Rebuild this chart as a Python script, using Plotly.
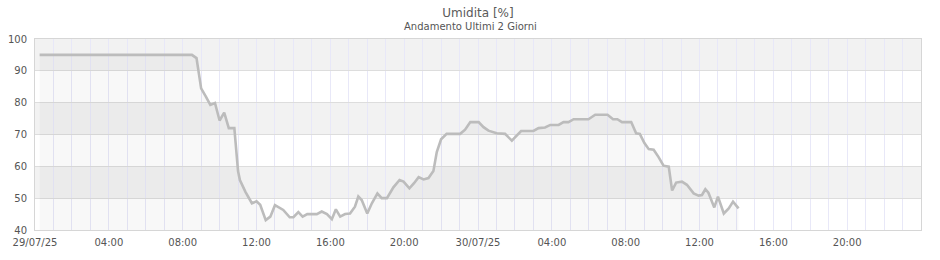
import plotly.graph_objects as go

# Data
times = [
    "2025-07-29 00:15", "2025-07-29 08:30", "2025-07-29 08:45", "2025-07-29 09:00",
    "2025-07-29 09:15", "2025-07-29 09:30", "2025-07-29 09:45", "2025-07-29 10:00",
    "2025-07-29 10:15", "2025-07-29 10:30", "2025-07-29 10:48", "2025-07-29 11:00",
    "2025-07-29 11:06", "2025-07-29 11:24", "2025-07-29 11:45", "2025-07-29 12:00",
    "2025-07-29 12:12", "2025-07-29 12:30", "2025-07-29 12:45", "2025-07-29 13:00",
    "2025-07-29 13:27", "2025-07-29 13:48", "2025-07-29 14:00", "2025-07-29 14:16",
    "2025-07-29 14:30", "2025-07-29 14:45", "2025-07-29 15:16", "2025-07-29 15:32",
    "2025-07-29 15:49", "2025-07-29 16:05", "2025-07-29 16:18", "2025-07-29 16:32",
    "2025-07-29 16:48", "2025-07-29 17:04", "2025-07-29 17:20", "2025-07-29 17:31",
    "2025-07-29 17:42", "2025-07-29 18:00", "2025-07-29 18:15", "2025-07-29 18:33",
    "2025-07-29 18:47", "2025-07-29 19:04", "2025-07-29 19:25", "2025-07-29 19:45",
    "2025-07-29 19:58", "2025-07-29 20:17", "2025-07-29 20:32", "2025-07-29 20:47",
    "2025-07-29 21:03", "2025-07-29 21:19", "2025-07-29 21:35", "2025-07-29 21:46",
    "2025-07-29 22:00", "2025-07-29 22:18", "2025-07-29 23:02", "2025-07-29 23:18",
    "2025-07-29 23:35", "2025-07-30 00:02", "2025-07-30 00:18", "2025-07-30 00:34",
    "2025-07-30 01:01", "2025-07-30 01:28", "2025-07-30 01:50", "2025-07-30 02:03",
    "2025-07-30 02:20", "2025-07-30 03:00", "2025-07-30 03:17", "2025-07-30 03:38",
    "2025-07-30 03:55", "2025-07-30 04:22", "2025-07-30 04:38", "2025-07-30 04:54",
    "2025-07-30 05:11", "2025-07-30 05:59", "2025-07-30 06:21", "2025-07-30 07:01",
    "2025-07-30 07:19", "2025-07-30 07:33", "2025-07-30 07:48", "2025-07-30 08:18",
    "2025-07-30 08:34", "2025-07-30 08:46", "2025-07-30 09:01", "2025-07-30 09:15",
    "2025-07-30 09:31", "2025-07-30 09:47", "2025-07-30 10:03", "2025-07-30 10:20",
    "2025-07-30 10:31", "2025-07-30 10:44", "2025-07-30 11:03", "2025-07-30 11:19",
    "2025-07-30 11:41", "2025-07-30 11:57", "2025-07-30 12:08", "2025-07-30 12:19",
    "2025-07-30 12:29", "2025-07-30 12:48", "2025-07-30 13:00", "2025-07-30 13:19",
    "2025-07-30 13:35", "2025-07-30 13:49", "2025-07-30 14:07",
]
humidity = [
    95, 95, 94, 84.5,
    82, 79.3, 79.9, 74.4,
    76.9, 72, 72, 58.5,
    55.7, 52, 48.4, 49,
    47.9, 43.1, 44.2, 47.8,
    46.3, 44, 44, 45.6,
    44.2, 45, 45, 45.8,
    45, 43.4, 46.5, 44.2,
    45, 45.2, 47.3, 50.5,
    49.4, 45.2, 48.4, 51.5,
    50, 50, 53.4, 55.7,
    55.2, 53.1, 54.7, 56.6,
    55.9, 56.3, 58.5, 64.5,
    68.5, 70.2, 70.2, 71.5,
    73.9, 73.9, 72.3, 71.2,
    70.4, 70.2, 68.1, 69.4,
    71.1, 71.1, 72, 72.2,
    73, 73, 73.9, 73.9,
    74.8, 74.8, 76.2, 76.2,
    74.8, 74.8, 73.9, 73.9,
    70.4, 70.2, 67.3, 65.4,
    65.2, 62.9, 60.2, 59.9,
    52.4, 54.9, 55.2, 54.2,
    51.5, 50.8, 51, 52.8,
    51.7, 47.1, 50.5, 45.2,
    46.8, 48.9, 46.8,
]

tick_vals = [
    "2025-07-29 00:00", "2025-07-29 04:00", "2025-07-29 08:00", "2025-07-29 12:00",
    "2025-07-29 16:00", "2025-07-29 20:00", "2025-07-30 00:00", "2025-07-30 04:00",
    "2025-07-30 08:00", "2025-07-30 12:00", "2025-07-30 16:00", "2025-07-30 20:00",
]
tick_text = [
    "29/07/25", "04:00", "08:00", "12:00", "16:00", "20:00",
    "30/07/25", "04:00", "08:00", "12:00", "16:00", "20:00",
]
x_range = ["2025-07-29 00:00", "2025-07-31 00:00"]
y_range = [40, 100]
band_starts = [50, 70, 90]   # grey bands (each 10 units tall)

title = "Umidita [%]"
subtitle = "Andamento Ultimi 2 Giorni"

fig = go.Figure()
fig.add_trace(go.Scatter(
    x=times, y=humidity, mode="lines",
    line=dict(color="#bcbcbc", width=2.6),
    fill="tozeroy", fillcolor="rgba(0,0,0,0.028)",
    hoverinfo="x+y", showlegend=False,
))

shapes = []
for b in band_starts:
    shapes.append(dict(type="rect", xref="paper", yref="y", x0=0, x1=1,
                       y0=b, y1=b + 10, fillcolor="#f2f2f2",
                       line=dict(width=0), layer="below"))

font = "DejaVu Sans, Verdana, sans-serif"
fig.update_layout(
    width=940, height=260,
    margin=dict(l=35, r=19, t=39, b=30, autoexpand=False),
    paper_bgcolor="white", plot_bgcolor="white",
    shapes=shapes,
    font=dict(family=font, size=10, color="#555555"),
    title=dict(text=title, x=0.5, xref="paper", xanchor="center",
               y=1 - 12.5 / 260, yref="container", yanchor="middle",
               font=dict(size=12, color="#5a5a5a")),
    annotations=[dict(text=subtitle, xref="paper", yref="paper",
                      x=0.5 - (35 - 19) / 2 / 886, y=1 + 12 / 191,
                      xanchor="center", yanchor="middle", showarrow=False,
                      font=dict(size=10, color="#555555"))],
    xaxis=dict(type="date", range=x_range, tickvals=tick_vals, ticktext=tick_text,
               showgrid=True, gridcolor="#e8e8f8", gridwidth=1,
               minor=dict(dtick=3600000, showgrid=True, gridcolor="#e8e8f8", gridwidth=1),
               showline=True, linecolor="#d6d6d6", mirror=True, ticks="",
               ticklabelstandoff=3, automargin=False,
               zeroline=False, tickfont=dict(size=10, color="#555555")),
    yaxis=dict(range=y_range, dtick=10, tick0=0, showgrid=True, gridcolor="#dddddd",
               showline=True, linecolor="#d6d6d6", mirror=True, ticks="",
               ticklabelstandoff=5, automargin=False,
               zeroline=False, tickfont=dict(size=10, color="#555555")),
)

fig.write_html("out.html")
